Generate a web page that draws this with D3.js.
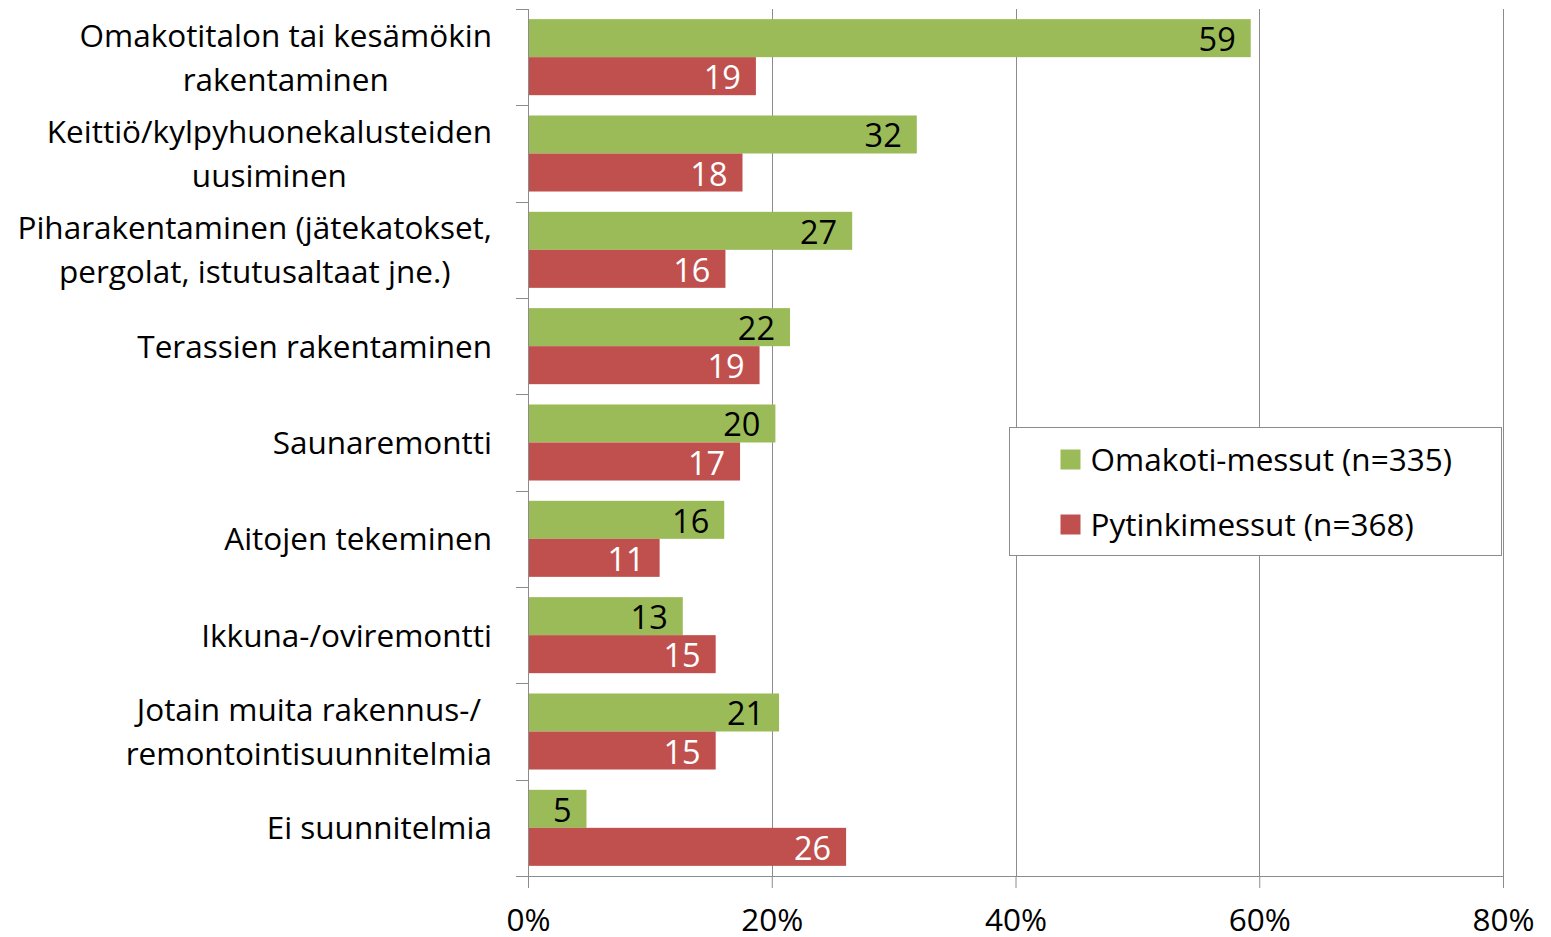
<!DOCTYPE html>
<html>
<head>
<meta charset="utf-8">
<script src="https://cdn.jsdelivr.net/npm/d3@7"></script>
<style>
  body { margin: 0; background: #fff; }
  svg text { font-family: "Open Sans", sans-serif; fill: #000; }
</style>
</head>
<body>
<svg id="chart" width="1551" height="937"></svg>
<script>
// kategoriat (rivit voivat olla kaksiriviset)
const categories = [
  ['Omakotitalon tai kesämökin', 'rakentaminen'],
  ['Keittiö/kylpyhuonekalusteiden', 'uusiminen'],
  ['Piharakentaminen (jätekatokset,', 'pergolat, istutusaltaat jne.)'],
  ['Terassien rakentaminen'],
  ['Saunaremontti'],
  ['Aitojen tekeminen'],
  ['Ikkuna-/oviremontti'],
  ['Jotain muita rakennus-/', 'remontointisuunnitelmia'],
  ['Ei suunnitelmia']
];
const seriesNames = ['Omakoti-messut (n=335)', 'Pytinkimessut (n=368)'];
const omakotiValues = [59.3, 31.9, 26.6, 21.5, 20.3, 16.1, 12.7, 20.6, 4.8];
const pytinkiValues = [18.7, 17.6, 16.2, 19.0, 17.4, 10.8, 15.4, 15.4, 26.1];
const xTicks = [0, 20, 40, 60, 80];

const COLORS = ['#9BBB59', '#C0504D'];
const LABEL_FILL = ['#000', '#fff'];
const FONT = '31.5px';

const svg = d3.select('#chart');
const plotLeft = 528, plotRight = 1503, plotTop = 9, plotBottom = 876;

const x = d3.scaleLinear().domain([0, 80]).range([plotLeft, plotRight]);
const y = d3.scaleBand().domain(d3.range(categories.length)).range([plotTop, plotBottom]);
const ySub = d3.scaleBand().domain([0, 1]).range([0, y.bandwidth()]).paddingOuter(0.267);

// ruudukko
svg.append('g')
  .selectAll('line')
  .data(xTicks.slice(1))
  .join('line')
  .attr('x1', d => Math.round(x(d)) + 0.5).attr('x2', d => Math.round(x(d)) + 0.5)
  .attr('y1', plotTop).attr('y2', plotBottom)
  .attr('stroke', '#8c8c8c').attr('stroke-width', 1);

// palkit
const rows = categories.map((c, i) => ({ i, vals: [omakotiValues[i], pytinkiValues[i]] }));
const rowG = svg.append('g')
  .selectAll('g')
  .data(rows)
  .join('g')
  .attr('transform', d => `translate(0,${y(d.i)})`);

rowG.selectAll('rect')
  .data(d => d.vals.map((v, s) => ({ v, s })))
  .join('rect')
  .attr('x', x(0))
  .attr('y', d => ySub(d.s))
  .attr('width', d => x(d.v) - x(0))
  .attr('height', ySub.bandwidth())
  .attr('fill', d => COLORS[d.s]);

rowG.selectAll('text.val')
  .data(d => d.vals.map((v, s) => ({ v, s })))
  .join('text')
  .attr('class', 'val')
  .attr('x', d => x(d.v) - 15)
  .attr('y', d => ySub(d.s) + ySub.bandwidth() / 2)
  .attr('dy', '0.4em')
  .attr('text-anchor', 'end')
  .style('font-size', '32.5px')
  .style('fill', d => LABEL_FILL[d.s])
  .text(d => Math.round(d.v));

// x-akseli
const xAxis = svg.append('g')
  .attr('transform', `translate(0,${plotBottom})`)
  .call(d3.axisBottom(x).tickValues(xTicks).tickFormat(d => d + '%').tickSize(12).tickPadding(21));
xAxis.select('.domain').attr('stroke', '#8c8c8c').attr('d', `M${plotLeft - 12},0.5H${plotRight}`);
xAxis.selectAll('.tick line').attr('stroke', '#8c8c8c');
xAxis.selectAll('.tick text').style('font-size', FONT).attr('dy', '0.71em');

// y-akseli
const yAxis = svg.append('g');
yAxis.append('line')
  .attr('x1', plotLeft + 0.5).attr('x2', plotLeft + 0.5)
  .attr('y1', plotTop).attr('y2', plotBottom + 12)
  .attr('stroke', '#8c8c8c');
yAxis.selectAll('line.tick')
  .data(d3.range(categories.length + 1))
  .join('line')
  .attr('class', 'tick')
  .attr('x1', plotLeft - 12).attr('x2', plotLeft)
  .attr('y1', d => Math.round(plotTop + d * y.step()) + 0.5)
  .attr('y2', d => Math.round(plotTop + d * y.step()) + 0.5)
  .attr('stroke', '#8c8c8c');

// kategoriatekstit: lohko oikealle, rivit keskitetty
const labelRight = 492, lineH = 44;
categories.forEach((lines, i) => {
  const g = svg.append('g');
  const cy = y(i) + y.bandwidth() / 2;
  const texts = lines.map((t, k) => g.append('text')
    .attr('y', cy + (k - (lines.length - 1) / 2) * lineH)
    .attr('dy', '0.36em')
    .attr('text-anchor', 'middle')
    .style('font-size', FONT)
    .text(t));
  const w = d3.max(texts, t => t.node().getComputedTextLength());
  texts.forEach(t => t.attr('x', labelRight - w / 2));
});

// selite
const legend = svg.append('g').attr('transform', 'translate(1009.5,427.5)');
legend.append('rect')
  .attr('width', 492).attr('height', 128)
  .attr('fill', '#fff').attr('stroke', '#8c8c8c');
const item = legend.selectAll('g.item')
  .data(seriesNames)
  .join('g')
  .attr('class', 'item')
  .attr('transform', (d, i) => `translate(51,${32 + i * 65})`);
item.append('rect')
  .attr('y', -10).attr('width', 20).attr('height', 20)
  .attr('fill', (d, i) => COLORS[i]);
item.append('text')
  .attr('x', 30).attr('dy', '0.36em')
  .style('font-size', FONT)
  .text(d => d);
</script>
</body>
</html>
